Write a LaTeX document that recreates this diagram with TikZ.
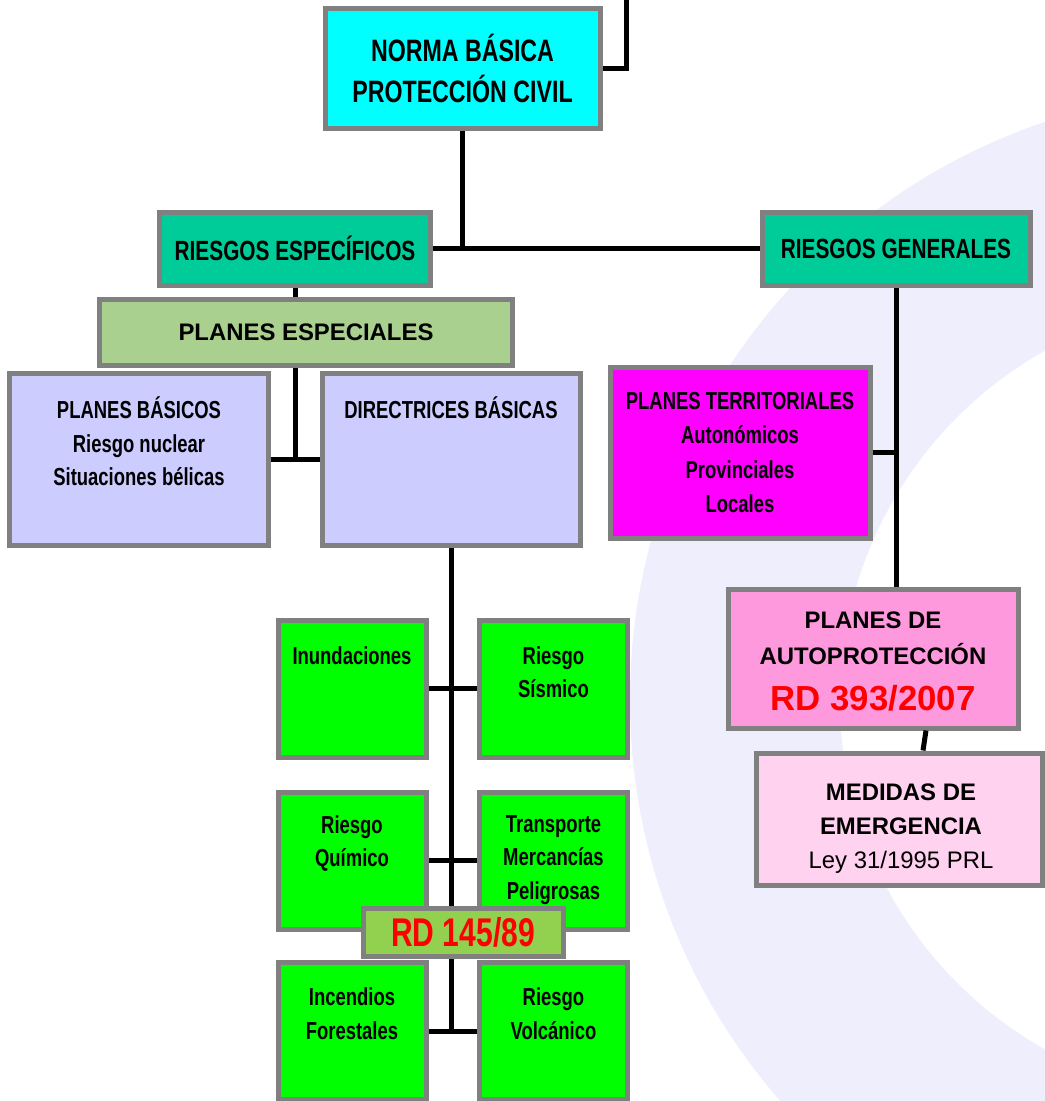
\documentclass[tikz,border=0pt]{standalone}
\usepackage{fontspec}
\setmainfont{Liberation Sans}
\newfontfamily\narrowfont[FakeStretch=0.75]{Liberation Sans}
\usetikzlibrary{positioning}
\definecolor{borderGray}{RGB}{128,128,128}
\definecolor{cyanFill}{RGB}{0,255,255}
\definecolor{tealFill}{RGB}{0,204,153}
\definecolor{sageFill}{RGB}{169,208,142}
\definecolor{lavenderFill}{RGB}{204,204,255}
\definecolor{magentaFill}{RGB}{255,0,255}
\definecolor{pinkFill}{RGB}{255,153,221}
\definecolor{paleFill}{RGB}{255,210,240}
\definecolor{greenFill}{RGB}{0,255,0}
\definecolor{rdFill}{RGB}{146,208,80}
\definecolor{sealTint}{RGB}{238,238,252}
\def\boxLineWidth{1mm}
\def\greenW{29.6mm}
\def\greenH{27.4mm}
\tikzset{
  boxNode/.style={draw=borderGray,line width=\boxLineWidth,inner sep=0pt},
  linkLine/.style={line width=1mm,black},
  narrowText/.style={font=\narrowfont\bfseries\fontsize{14}{19}\selectfont,align=center,inner sep=0pt},
  titleText/.style={narrowText,font=\narrowfont\bfseries\fontsize{15.8}{19}\selectfont},
  plainText/.style={font=\bfseries\fontsize{13.6}{20.5}\selectfont,align=center,inner sep=0pt},
  greenBox/.style={boxNode,fill=greenFill,minimum width=\greenW,minimum height=\greenH}
}

\begin{document}
\begin{tikzpicture}[x=0.2mm,y=-0.2mm]
  \useasboundingbox (0,0) rectangle (1045,1101);
  \clip (0,0) rectangle (1045,1101);

  % faint seal in the background
  \fill[sealTint,even odd rule] (1240,700) circle[radius=122mm] (1240,700) circle[radius=80mm];

  % top of the tree
  \node[boxNode,fill=cyanFill,minimum width=55mm,minimum height=24mm,
        narrowText,font=\narrowfont\bfseries\fontsize{17.6}{23.3}\selectfont]
        (norma) at (462.5,68) {NORMA BÁSICA\\PROTECCIÓN CIVIL};
  \node[boxNode,fill=tealFill,minimum width=54mm,minimum height=14.6mm,titleText]
        (riesgosEsp) at (295,248.5) {RIESGOS ESPECÍFICOS};
  \node[boxNode,fill=tealFill,minimum width=53.6mm,minimum height=14.6mm,titleText]
        (riesgosGen) at (896,248.5) {RIESGOS GENERALES};

  % left branch
  \node[boxNode,fill=sageFill,minimum width=82.4mm,minimum height=13.2mm,plainText]
        (planesEsp) at (306,332) {PLANES ESPECIALES};
  \node[boxNode,fill=lavenderFill,minimum width=51.6mm,minimum height=34.4mm] (planesBas) at (139,459) {};
  \node[narrowText] (planesBasTxt) at (139,441.5)
        {PLANES BÁSICOS\\Riesgo nuclear\\Situaciones bélicas};
  \node[boxNode,fill=lavenderFill,minimum width=51.6mm,minimum height=34.4mm] (directrices) at (451,459) {};
  \node[narrowText] (directricesTxt) at (451,408) {DIRECTRICES BÁSICAS};

  % risks of the basic guidelines
  \node[greenBox] (inundaciones) at (352,688.5) {};
  \node[greenBox] (sismico) at (553.5,688.5) {};
  \node[greenBox] (quimico) at (352,860.5) {};
  \node[greenBox] (transporte) at (553.5,860.5) {};
  \node[greenBox] (incendios) at (352,1031) {};
  \node[greenBox] (volcanico) at (553.5,1031) {};
  \node[narrowText] (inundacionesTxt) at (352,656) {Inundaciones};
  \node[narrowText] (sismicoTxt) at (553.5,672.5) {Riesgo\\Sísmico};
  \node[narrowText] (quimicoTxt) at (352,843.5) {Riesgo\\Químico};
  \node[narrowText] (transporteTxt) at (553.5,860) {Transporte\\Mercancías\\Peligrosas};
  \node[narrowText] (incendiosTxt) at (352,1013.5) {Incendios\\Forestales};
  \node[narrowText] (volcanicoTxt) at (553.5,1013.5) {Riesgo\\Volcánico};

  % right branch
  \node[boxNode,fill=magentaFill,minimum width=52mm,minimum height=34.2mm,narrowText,
        font=\narrowfont\bfseries\fontsize{14}{19.4}\selectfont]
        (planesTerr) at (740,452.5) {PLANES TERRITORIALES\\Autonómicos\\Provinciales\\Locales};
  \node[boxNode,fill=pinkFill,minimum width=58mm,minimum height=27.8mm] (autoprot) at (873,658.5) {};
  \node[plainText] (autoprotTxt) at (873,638) {PLANES DE\\AUTOPROTECCIÓN};
  \node[plainText,font=\bfseries\fontsize{19.8}{24}\selectfont,text=red] (autoprotRd) at (873,698) {RD 393/2007};
  \node[boxNode,fill=paleFill,minimum width=57.2mm,minimum height=26.4mm] (medidas) at (899,819) {};
  \node[plainText,font=\bfseries\fontsize{13.6}{19.4}\selectfont] (medidasTxt) at (901,829)
        {MEDIDAS DE\\EMERGENCIA\\{\mdseries Ley 31/1995 PRL}};

  % connectors
  \coordinate (upLink) at (626,-10);
  \draw[linkLine] (norma.east) -| (upLink);
  \draw[linkLine] (norma.south) -- (norma.south |- riesgosEsp.east);
  \draw[linkLine] (riesgosEsp.east) -- (riesgosGen.west);
  \draw[linkLine] (riesgosEsp.south) -- (riesgosEsp.south |- planesEsp.north);
  \draw[linkLine] (riesgosEsp.south |- planesEsp.south) -- (riesgosEsp.south |- planesBas.east);
  \draw[linkLine] (planesBas.east) -- (directrices.west);
  \draw[linkLine] (directrices.south) -- (directrices.south |- incendios.east);
  \draw[linkLine] (inundaciones.east) -- (sismico.west);
  \draw[linkLine] (quimico.east) -- (transporte.west);
  \draw[linkLine] (incendios.east) -- (volcanico.west);
  \draw[linkLine] (riesgosGen.south) -- (riesgosGen.south |- autoprot.north);
  \draw[linkLine] (planesTerr.east) -- (planesTerr.east -| riesgosGen.south);
  \draw[linkLine] ([xshift=10.6mm]autoprot.south) -- ([xshift=4.8mm]medidas.north);

  % law label over the guideline line
  \node[boxNode,fill=rdFill,minimum width=40mm,minimum height=9.6mm,narrowText,
        font=\narrowfont\bfseries\fontsize{22.8}{26}\selectfont,text=red]
        (rdDirectrices) at (463,932) {RD 145/89};
\end{tikzpicture}
\end{document}
